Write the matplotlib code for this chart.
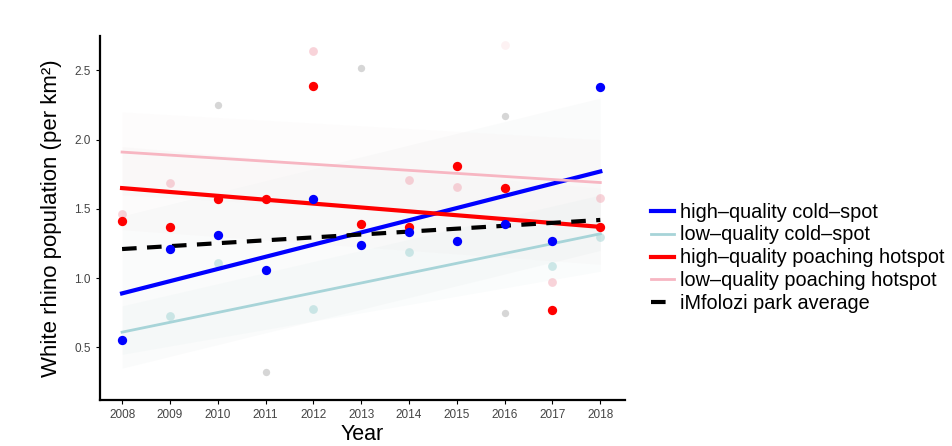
import numpy as np
import matplotlib.pyplot as plt

plt.rcParams['font.family'] = ['Liberation Sans', 'DejaVu Sans']

# data
years = np.arange(2008, 2019)

hq_cold = [0.55, 1.21, 1.31, 1.06, 1.57, 1.24, 1.33, 1.27, 1.39, 1.27, 2.38]
hq_hot = [1.41, 1.37, 1.57, 1.57, 2.39, 1.39, 1.37, 1.81, 1.65, 0.77, 1.37]

lq_cold_years = [2009, 2010, 2012, 2014, 2017, 2018]
lq_cold = [0.73, 1.11, 0.78, 1.19, 1.09, 1.30]
lq_hot_years = [2008, 2009, 2012, 2014, 2015, 2016, 2017, 2018]
lq_hot = [1.46, 1.69, 2.64, 1.71, 1.66, 2.68, 0.97, 1.58]
lq_hot_alpha = [0.5, 0.5, 0.5, 0.5, 0.5, 0.15, 0.5, 0.5]
other_years = [2010, 2011, 2013, 2016, 2016]
other = [2.25, 0.32, 2.52, 2.17, 0.75]

# fitted trend lines: value at 2008 and at 2018
fit_years = [2008, 2018]
fit_hq_cold = [0.89, 1.77]
fit_lq_cold = [0.61, 1.32]
fit_hq_hot = [1.65, 1.37]
fit_lq_hot = [1.91, 1.69]
fit_avg = [1.21, 1.42]

fig = plt.figure(figsize=(9.53, 4.46), dpi=100)
ax = fig.add_axes([0.105, 0.103, 0.551, 0.817])

# very faint confidence ribbons
ax.fill_between(fit_years, [0.35, 1.2], [1.45, 2.3], color='#d5dcdc', alpha=0.1, lw=0)
ax.fill_between(fit_years, [0.45, 1.05], [0.8, 1.6], color='#cfe3e3', alpha=0.1, lw=0)
ax.fill_between(fit_years, [1.35, 1.1], [1.95, 1.65], color='#e5d8d8', alpha=0.08, lw=0)
ax.fill_between(fit_years, [1.6, 1.4], [2.2, 2.0], color='#eee0e0', alpha=0.08, lw=0)

# points
ax.scatter(other_years, other, s=28, color='#9a9a9a', alpha=0.4, lw=0, zorder=2)
ax.scatter(lq_cold_years, lq_cold, s=40, color='#9fd3d3', alpha=0.5, lw=0, zorder=2)
for x, y, a in zip(lq_hot_years, lq_hot, lq_hot_alpha):
    ax.scatter(x, y, s=40, color='#f2a8b4', alpha=a, lw=0, zorder=2)
ax.scatter(years, hq_hot, s=45, color='#ff0000', lw=0, zorder=4)
ax.scatter(years, hq_cold, s=45, color='#0000ff', lw=0, zorder=4)

# trend lines
ax.plot(fit_years, fit_hq_cold, color='#0000ff', lw=3, label='high\u2013quality cold\u2013spot', zorder=3)
ax.plot(fit_years, fit_lq_cold, color='#a7d4d8', lw=2, label='low\u2013quality cold\u2013spot', zorder=3)
ax.plot(fit_years, fit_hq_hot, color='#ff0000', lw=3, label='high\u2013quality poaching hotspot', zorder=3)
ax.plot(fit_years, fit_lq_hot, color='#f7b6c2', lw=2, label='low\u2013quality poaching hotspot', zorder=3)
ax.plot(fit_years, fit_avg, color='black', lw=3, ls=(0, (3.5, 2.5)), label='iMfolozi park average', zorder=3)

ax.set_xlim(2007.54, 2018.52)
ax.set_ylim(0.12, 2.75)
ax.set_xticks(years)
ax.set_yticks([0.5, 1.0, 1.5, 2.0, 2.5])
ax.set_yticklabels(['0.5', '1.0', '1.5', '2.0', '2.5'])
ax.tick_params(labelsize=8.5, labelcolor='#444444', length=3, width=0.8, color='black')
for s in ['top', 'right']:
    ax.spines[s].set_visible(False)
for s in ['left', 'bottom']:
    ax.spines[s].set_linewidth(1.6)

ax.set_xlabel('Year', fontsize=15.5, labelpad=2)
ax.set_ylabel('White rhino population (per km\u00b2)', fontsize=16, labelpad=9)

leg = ax.legend(loc='center left', bbox_to_anchor=(1.015, 0.39), frameon=False,
                fontsize=14.3, handlelength=1.15, handletextpad=0.3, labelspacing=0.2)

fig.savefig('out.png', dpi=100)
